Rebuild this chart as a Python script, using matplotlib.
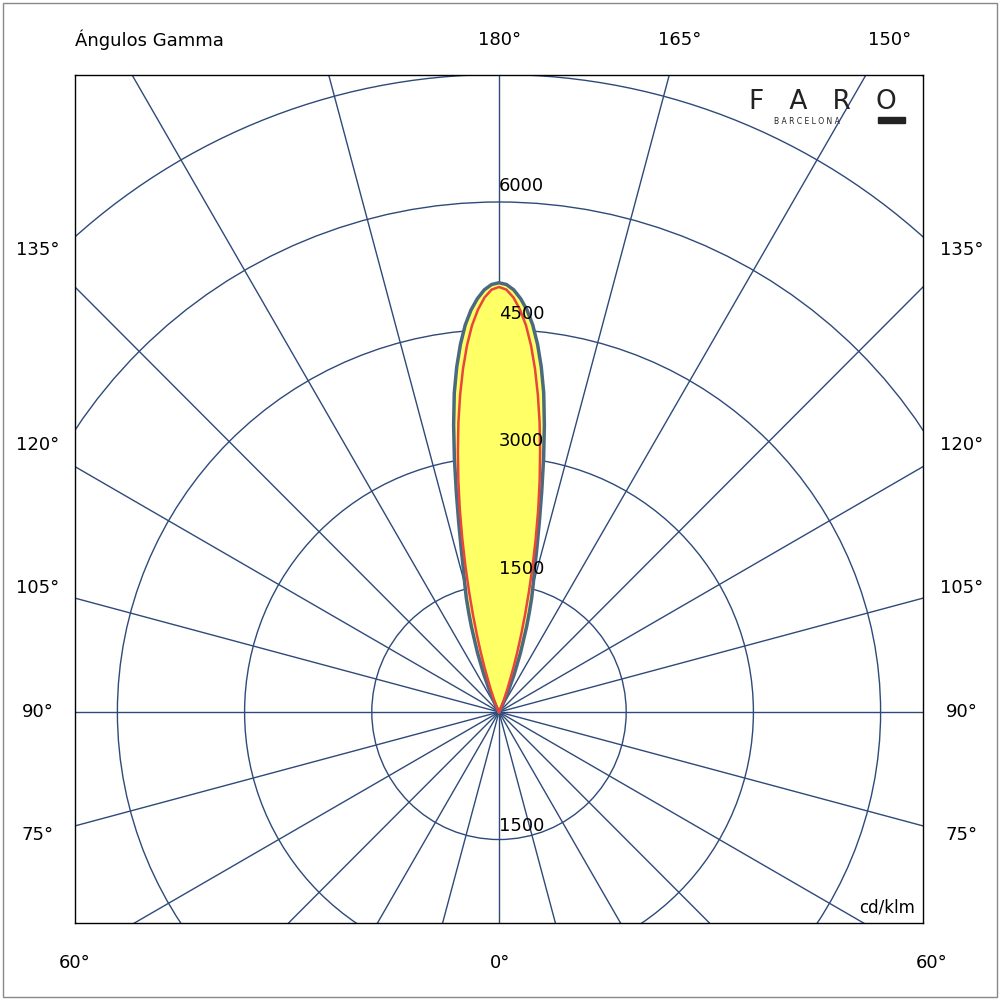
import numpy as np
import matplotlib
matplotlib.use("Agg")
import matplotlib.pyplot as plt
from matplotlib.patches import Circle, Rectangle

# deviation from gamma 180 (deg) and intensity (cd/klm)
delta = [0, 1, 2, 3, 4, 5, 6, 7, 8, 9, 10, 11, 12, 13, 14, 15, 16, 17, 18, 20, 22, 25, 30, 35]
c0_180 = [5050, 5030, 4970, 4870, 4740, 4570, 4350, 4090, 3790, 3420, 3030, 2640, 2290, 1990,
          1740, 1560, 1400, 1220, 1050, 740, 480, 220, 40, 0]
c90_270 = [5000, 4970, 4880, 4740, 4560, 4330, 4060, 3760, 3440, 3100, 2760, 2420, 2080, 1760,
           1460, 1190, 950, 740, 560, 300, 150, 60, 0, 0]
rings = [1500, 3000, 4500, 6000, 7500, 9000, 10500]
ring_labels = ["1500", "3000", "4500", "6000"]
side_labels = ["135°", "120°", "105°", "90°", "75°"]
side_y = [250, 445, 588, 712, 835]
top_labels = ["180°", "165°", "150°"]
top_x = [500, 680, 890]

fig = plt.figure(figsize=(10, 10), dpi=100)
ax = fig.add_axes([0.075, 0.077, 0.848, 0.848])
ax.set_xlim(-5000, 5000)
ax.set_ylim(-2482, 7494)
ax.set_aspect("auto")
ax.set_xticks([]); ax.set_yticks([])
for s in ax.spines.values():
    s.set_color("black"); s.set_linewidth(1)

lc = "#2e4a7a"
for r in rings:
    ax.add_patch(Circle((0, 0), r, fill=False, color=lc, lw=1, zorder=1))
for a in range(0, 360, 15):
    t = np.radians(a)
    ax.plot([0, 12000 * np.sin(t)], [0, 12000 * np.cos(t)], color=lc, lw=1, zorder=1)

def curve(vals):
    d = np.radians(np.array(delta, float))
    v = np.array(vals, float)
    dd = np.concatenate([-d[::-1], d[1:]])
    vv = np.concatenate([v[::-1], v[1:]])
    return vv * np.sin(dd), vv * np.cos(dd)

x1, y1 = curve(c0_180)
ax.fill(x1, y1, color="#ffff66", zorder=2)
ax.plot(x1, y1, color="#4a6a80", lw=2.5, zorder=3)
x2, y2 = curve(c90_270)
ax.plot(x2, y2, color="#e8453c", lw=1.8, zorder=4)

for i, lab in enumerate(ring_labels):
    ax.text(0, rings[i] + 80, lab, fontsize=13, ha="left", va="bottom", zorder=5)
ax.text(0, -1500 + 50, "1500", fontsize=13, ha="left", va="bottom", zorder=5)
ax.text(4900, -2400, "cd/klm", fontsize=12, ha="right", va="bottom", zorder=5)

fs = 13
fig.text(0.075, 1 - 40 / 1000, "Ángulos Gamma", fontsize=fs, va="center", ha="left")
for lab, x in zip(top_labels, top_x):
    fig.text(x / 1000, 1 - 40 / 1000, lab, fontsize=fs, ha="center", va="center")
for lab, y in zip(side_labels, side_y):
    fig.text(0.038, 1 - y / 1000, lab, fontsize=fs, ha="center", va="center")
    fig.text(0.962, 1 - y / 1000, lab, fontsize=fs, ha="center", va="center")
fig.text(0.075, 1 - 963 / 1000, "60°", fontsize=fs, ha="center", va="center")
fig.text(0.5, 1 - 963 / 1000, "0°", fontsize=fs, ha="center", va="center")
fig.text(0.932, 1 - 963 / 1000, "60°", fontsize=fs, ha="center", va="center")

# logo
fig.text(0.823, 0.898, "F   A   R   O", fontsize=19, ha="center", va="center", color="#222222")
fig.text(0.807, 0.879, "B A R C E L O N A", fontsize=5.5, ha="center", va="center", color="#222222")
fig.patches.append(Rectangle((0.878, 0.877), 0.027, 0.006, transform=fig.transFigure, color="#222222"))

fig.patches.append(Rectangle((0.003, 0.003), 0.994, 0.994, transform=fig.transFigure,
                             fill=False, edgecolor="#888888", lw=1))
fig.savefig("out.png", dpi=100)
